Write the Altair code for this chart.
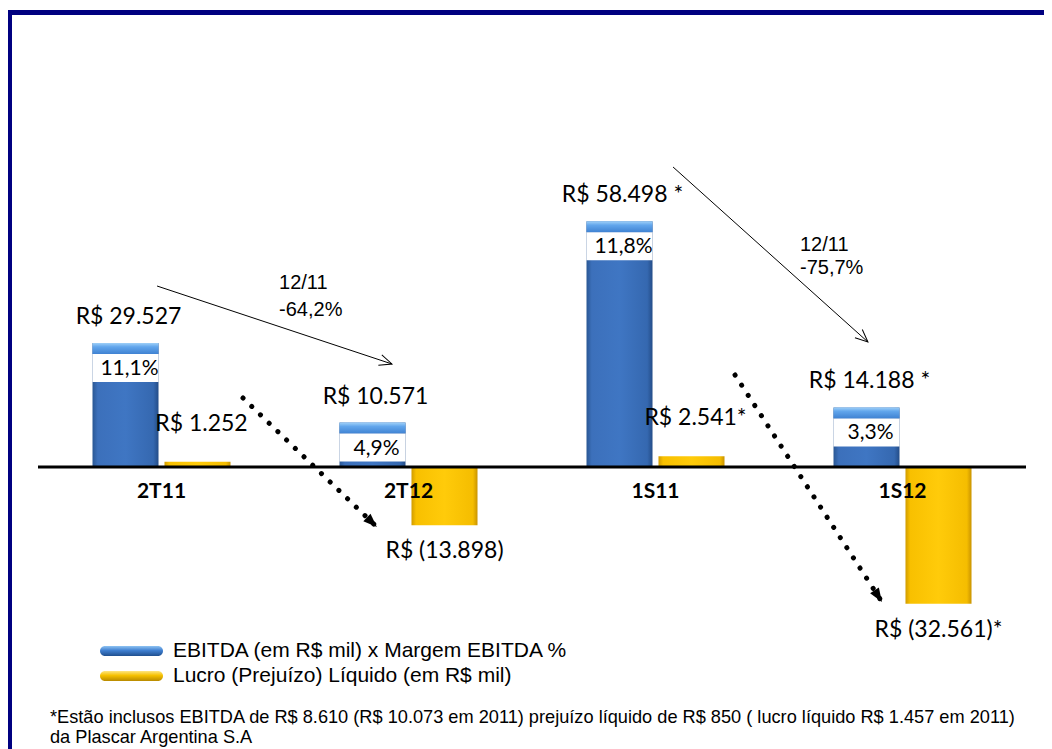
import altair as alt
import pandas as pd

# ---------------- data ----------------
categories = ["2T11", "2T12", "1S11", "1S12"]
series = ["EBITDA", "Lucro"]
ebitda = [29527, 10571, 58498, 14188]
ebitda_labels = ["R$ 29.527", "R$ 10.571", "R$ 58.498 *", "R$ 14.188 *"]
margem_labels = ["11,1%", "4,9%", "11,8%", "3,3%"]
lucro = [1252, -13898, 2541, -32561]
lucro_labels = ["R$ 1.252", "R$ (13.898)", "R$ 2.541*", "R$ (32.561)*"]

# variation arrows (x in category units: category i spans [i, i+1])
arrow_names = ["ebitda_t", "ebitda_s", "lucro_t", "lucro_s"]
arrow_x0 = [0.482, 2.571, 0.830, 2.822]
arrow_y0 = [43095, 71429, 16429, 21905]
arrow_x1 = [1.433, 3.360, 1.372, 3.417]
arrow_y1 = [24524, 29762, -14286, -32143]

var_text = ["12/11", "-64,2%", "12/11", "-75,7%"]
var_x = [0.976, 0.976, 3.085, 3.085]
var_y = [43810, 37381, 52857, 47381]

legend_labels = ["EBITDA (em R$ mil) x Margem EBITDA %",
                 "Lucro (Prejuízo) Líquido (em R$ mil)"]
footnote = ["*Estão inclusos EBITDA de R$ 8.610 (R$ 10.073 em 2011) prejuízo líquido de R$ 850 ( lucro líquido R$ 1.457 em 2011)",
            "da Plascar Argentina S.A"]

# ---------------- tables ----------------
df = pd.DataFrame({
    "cat": categories * 2,
    "serie": ["EBITDA"] * 4 + ["Lucro"] * 4,
    "valor": ebitda + lucro,
    "rotulo": ebitda_labels + lucro_labels,
    "margem": margem_labels + [""] * 4,
})
arrows = pd.DataFrame({"nome": arrow_names, "x0": arrow_x0, "y0": arrow_y0,
                       "x1": arrow_x1, "y1": arrow_y1})
var_df = pd.DataFrame({"t": var_text, "x": var_x, "y": var_y})
cats_df = pd.DataFrame({"cat": categories, "zero": [0] * 4})
one = pd.DataFrame({"a": [0]})

W, H = 988, 741
YS = alt.Scale(domain=[-67143, 109286], nice=False, zero=False)
XQ = alt.Scale(domain=[0, 4], nice=False, zero=False)

X = alt.X("cat:N", sort=categories, axis=None,
          scale=alt.Scale(domain=categories, paddingInner=0, paddingOuter=0))
XO = alt.XOffset("serie:N", sort=series,
                 scale=alt.Scale(domain=series, paddingInner=0.083, paddingOuter=0.757))
Y = alt.Y("valor:Q", axis=None, scale=YS)

def hgrad(stops):
    return {"gradient": "linear", "x1": 0, "x2": 1, "y1": 0, "y2": 0,
            "stops": [{"offset": o, "color": c} for o, c in stops]}

def vgrad(stops):
    return {"gradient": "linear", "x1": 0, "x2": 0, "y1": 0, "y2": 1,
            "stops": [{"offset": o, "color": c} for o, c in stops]}

blue_grad = hgrad([(0, "#2a5794"), (0.08, "#3c70bb"), (0.5, "#3f76c3"), (0.92, "#3568b0"), (1, "#244d88")])
cap_grad = vgrad([(0, "#9fd0f8"), (0.35, "#62a6ec"), (1, "#3f82d2")])
gold_grad = hgrad([(0, "#d19c00"), (0.07, "#f8c000"), (0.5, "#ffcb0a"), (0.93, "#f5bd00"), (1, "#c99300")])

base = alt.Chart(df).encode(x=X, xOffset=XO, y=Y)
is_e = "datum.serie == 'EBITDA'"
is_l = "datum.serie == 'Lucro'"

blue = base.transform_filter(is_e).mark_bar(fill=blue_grad)
cap = base.transform_filter(is_e).mark_bar(fill=cap_grad, y2Offset=11).encode(y2=alt.Y2("valor:Q"))
white = base.transform_filter(is_e).mark_bar(fill="white", yOffset=11, y2Offset=39).encode(y2=alt.Y2("valor:Q"))
gold = base.transform_filter(is_l).mark_bar(fill=gold_grad)

LBL = dict(font="Lato", color="black")
e_lbl = base.transform_filter(is_e).mark_text(dy=-26, dx=3, fontSize=23, **LBL).encode(text="rotulo:N")
m_lbl = base.transform_filter(is_e).mark_text(dy=26, dx=4, fontSize=21, **LBL).encode(text="margem:N")
lp_lbl = base.transform_filter(is_l + " && datum.valor > 0").mark_text(dy=-38, dx=4, fontSize=23, **LBL).encode(text="rotulo:N")
ln_lbl = base.transform_filter(is_l + " && datum.valor < 0").mark_text(dy=26, dx=0, fontSize=23, **LBL).encode(text="rotulo:N")

cat_lbl = alt.Chart(cats_df).mark_text(dy=25, fontSize=21, fontWeight="bold", **LBL).encode(
    x=X, y=alt.Y("zero:Q", scale=YS, axis=None), text="cat:N")

baseline = alt.Chart(one).mark_rule(color="black", strokeWidth=3).encode(
    y=alt.Y("a:Q", scale=YS, axis=None))

# arrows
ax = alt.X("x0:Q", scale=XQ, axis=None)
thin = alt.Chart(arrows).transform_filter("indexof(datum.nome, 'ebitda') == 0").mark_rule(
    color="black", strokeWidth=1).encode(x=ax, x2="x1:Q", y=alt.Y("y0:Q", scale=YS, axis=None), y2="y1:Q")
dots = alt.Chart(arrows).transform_filter("indexof(datum.nome, 'lucro') == 0").mark_rule(
    color="black", strokeWidth=5, strokeDash=[0.1, 12], strokeCap="round").encode(
    x=ax, x2="x1:Q", y=alt.Y("y0:Q", scale=YS, axis=None), y2="y1:Q")

CHEVRON = "M-0.55,1.25L0,0L0.55,1.25"
TRI = "M0,0L-0.6,1.6L0.6,1.6Z"
head_specs = [("ebitda_t", CHEVRON, 108.4, False, 400),
              ("ebitda_s", CHEVRON, 131.9, False, 400),
              ("lucro_t", TRI, 133.9, True, 300),
              ("lucro_s", TRI, 147.1, True, 300)]
heads = []
for nome, shp, ang, filled, sz in head_specs:
    heads.append(alt.Chart(arrows).transform_filter(f"datum.nome == '{nome}'").mark_point(
        shape=shp, angle=ang, filled=filled, color="black", opacity=1, size=sz,
        strokeWidth=1).encode(x=alt.X("x1:Q", scale=XQ, axis=None),
                              y=alt.Y("y1:Q", scale=YS, axis=None)))

var_lbl = alt.Chart(var_df).mark_text(align="left", baseline="middle", font="Liberation Sans",
                                      fontSize=20, color="black").encode(
    x=alt.X("x:Q", scale=XQ, axis=None), y=alt.Y("y:Q", scale=YS, axis=None), text="t:N")

# legend (manual)
pill_blue = vgrad([(0, "#8ec3f2"), (0.45, "#3f7fd0"), (1, "#1f4f8f")])
pill_gold = vgrad([(0, "#ffe680"), (0.45, "#f5c000"), (1, "#b88a00")])
leg = []
for i, (lab, g) in enumerate(zip(legend_labels, [pill_blue, pill_gold])):
    yc = 643 + 25 * i
    leg.append(alt.Chart(one).mark_rect(cornerRadius=5, fill=g).encode(
        x=alt.value(62), x2=alt.value(125), y=alt.value(yc - 5), y2=alt.value(yc + 5)))
    leg.append(alt.Chart(one).mark_text(align="left", baseline="middle", font="Liberation Sans",
                                        fontSize=21, color="black").encode(
        x=alt.value(135), y=alt.value(yc), text=alt.value(lab)))

foot = []
for i, t in enumerate(footnote):
    foot.append(alt.Chart(one).mark_text(align="left", baseline="middle", font="Liberation Sans",
                                         fontSize=18.2, color="black").encode(
        x=alt.value(12), y=alt.value(710 + 20 * i), text=alt.value(t)))

# frame
NAVY = "#000080"
frame = [
    alt.Chart(one).mark_rule(color=NAVY, strokeWidth=5).encode(
        x=alt.value(-30), x2=alt.value(1006), y=alt.value(4.5)),
    alt.Chart(one).mark_rule(color=NAVY, strokeWidth=4).encode(
        x=alt.value(-28), y=alt.value(2), y2=alt.value(H)),
]

chart = alt.layer(
    blue, cap, white, gold, baseline, e_lbl, m_lbl, lp_lbl, ln_lbl, cat_lbl,
    thin, dots, *heads, var_lbl, *leg, *foot, *frame
).resolve_scale(x="independent").properties(
    width=W, height=H,
    padding={"left": 30, "top": 0, "right": 18, "bottom": 0},
    autosize=alt.AutoSizeParams(type="none"),
).configure_view(stroke=None)

chart.save("out.html", embed_options={"renderer": "svg", "actions": False})
